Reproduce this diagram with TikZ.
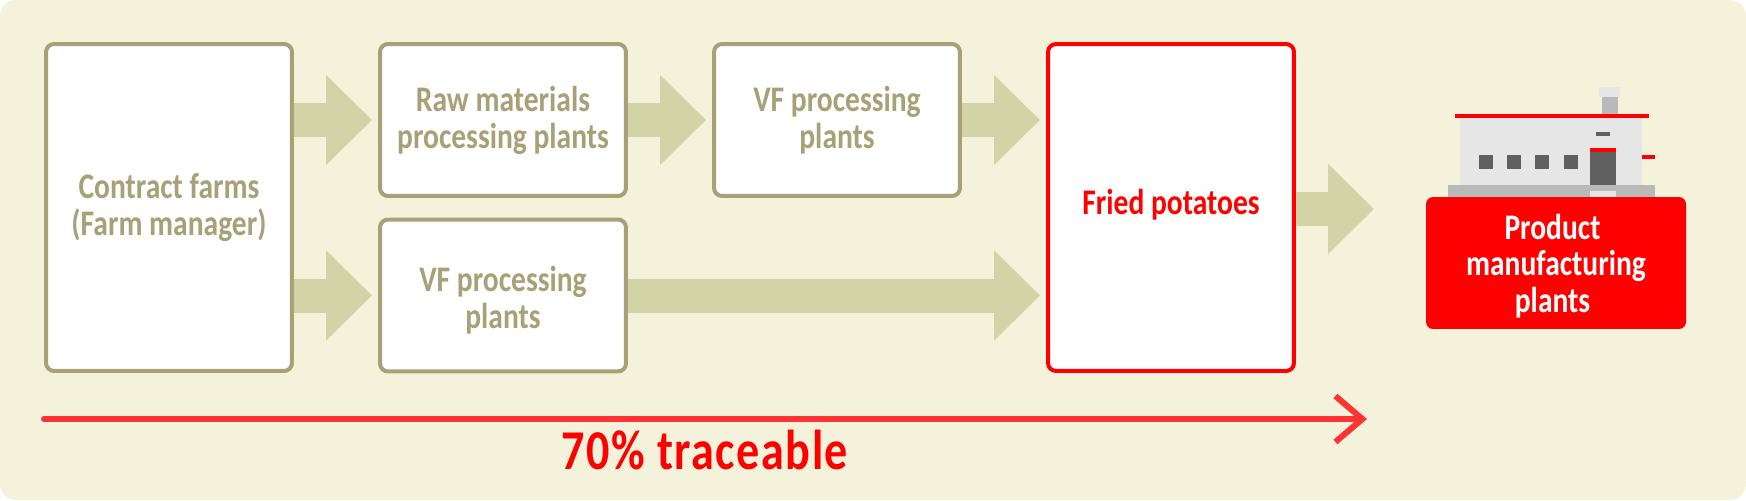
\documentclass[tikz,border=0pt]{standalone}
\usepackage{fontspec}
\setmainfont[FakeStretch=0.82]{Carlito}
\usepackage{tikz}
\usetikzlibrary{arrows.meta}
\definecolor{bgcream}{HTML}{F5F2DC}
\definecolor{boxtan}{HTML}{A8A177}
\definecolor{flowtan}{HTML}{D3D3A8}
\definecolor{tracered}{HTML}{FF3333}
\definecolor{wallgray}{HTML}{E6E6E6}
\definecolor{basegray}{HTML}{B9B9B9}
\definecolor{darkgray}{HTML}{606060}
\newcommand{\labelfont}{\fontsize{20.5pt}{21pt}\selectfont\bfseries}
\tikzset{
  stagebox/.style={draw=boxtan, fill=white, line width=0.8mm, rounded corners=1.6mm, minimum width=4.92cm, minimum height=3.04cm, align=center, text=boxtan, font=\labelfont, inner sep=0pt},
  tallbox/.style={stagebox, minimum height=6.54cm},
  flowarrow/.style={draw=flowtan, line width=6.8mm, -{Triangle[length=9.2mm, width=17.5mm]}, shorten >=1.2mm},
}
\begin{document}
\begin{tikzpicture}[x=0.02cm, y=-0.02cm]
\useasboundingbox (0, 0) rectangle (1746, 500);
\fill[bgcream, rounded corners=3.2mm] (0, 0) rectangle (1746, 500);
% boxes
\node[tallbox] (farms) at (169, 207.5) {Contract farms\\(Farm manager)};
\node[stagebox] (rawplant) at (503, 120) {Raw materials\\processing plants};
\node[stagebox] (vftop) at (837, 120) {VF processing\\plants};
\node[stagebox] (vfbottom) at (503, 295.5) {\rule{0pt}{0.71cm}VF processing\\plants};
\node[tallbox, draw=red, text=red, text depth=2.4mm] (fried) at (1171, 207.5) {Fried potatoes};
\node[fill=red, text=white, rounded corners=1.4mm, minimum width=5.2cm, minimum height=2.64cm, align=center, font=\labelfont, inner sep=0pt] (product) at (1556, 263) {\rule{0pt}{0.63cm}Product\hspace*{1.4mm}\\manufacturing\hspace*{2.7mm}\\plants\hspace*{1.4mm}};
\coordinate (friedend) at (1380, 209);
% flow arrows
\draw[flowarrow] (farms.east |- rawplant) -- (rawplant.west);
\draw[flowarrow] (farms.east |- vfbottom) -- (vfbottom.west);
\draw[flowarrow] (rawplant.east) -- (vftop.west);
\draw[flowarrow] (vftop.east) -- (vftop.east -| fried.west);
\draw[flowarrow] (vfbottom.east) -- (vfbottom.east -| fried.west);
\draw[flowarrow] (fried.east |- friedend) -- (friedend);
% factory
\fill[basegray] (1448, 185) rectangle (1655, 197);
\fill[wallgray] (1460, 118) rectangle (1642, 185);
\fill[basegray] (1602, 97) rectangle (1618, 114);
\fill[wallgray] (1599, 87) rectangle (1620, 97);
\fill[red] (1455, 114) rectangle (1649, 118);
\fill[darkgray] (1596, 132) rectangle (1610, 136);
\fill[darkgray] (1590, 152) rectangle (1616, 185);
\fill[red] (1590, 148) rectangle (1616, 152);
\fill[wallgray] (1590, 191) rectangle (1616, 197);
\fill[red] (1642, 155) rectangle (1655, 159);
\foreach \x in {1479, 1507, 1535, 1564}
  \fill[darkgray] (\x, 155) rectangle (\x+14, 169);
% traceable arrow
\coordinate (tracestart) at (44, 419);
\coordinate (traceend) at (1367, 419);
\draw[tracered, line width=1.2mm, line cap=round, -{Straight Barb[length=5.4mm, width=9.2mm]}] (tracestart) -- (traceend);
\node[text=red, font=\fontsize{32pt}{32pt}\selectfont\bfseries\addfontfeature{LetterSpace=2.7}] (tracelabel) at (705, 450) {70\% traceable};
\end{tikzpicture}
\end{document}
